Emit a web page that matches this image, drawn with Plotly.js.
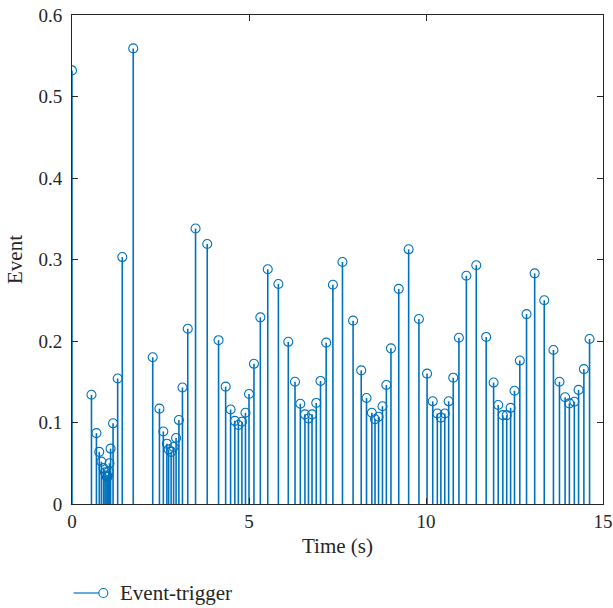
<!DOCTYPE html>
<html>
<head>
<meta charset="utf-8">
<script src="https://cdn.plot.ly/plotly-3.0.1.min.js"></script>
<style>html,body{margin:0;padding:0;background:#fff;}#chart{width:613px;height:608px;}</style>
</head>
<body>
<div id="chart"></div>
<script>
const timeS = [0, 0.55, 0.69, 0.77, 0.83, 0.89, 0.93, 0.96, 0.99, 1.01, 1.04, 1.06, 1.09, 1.16, 1.29, 1.42, 1.73,
  2.28, 2.47, 2.58, 2.68, 2.73, 2.80, 2.87, 2.94, 3.02, 3.12, 3.27, 3.49, 3.82, 4.14, 4.34, 4.48, 4.60, 4.70, 4.80,
  4.90, 5.00, 5.14, 5.32, 5.53, 5.83, 6.11, 6.30, 6.45, 6.58, 6.68, 6.78, 6.90, 7.02, 7.18, 7.37, 7.64, 7.94, 8.17,
  8.32, 8.47, 8.56, 8.66, 8.77, 8.88, 9.01, 9.23, 9.51, 9.80, 10.03, 10.19, 10.32, 10.42, 10.53, 10.64, 10.77, 10.93,
  11.14, 11.42, 11.70, 11.91, 12.04, 12.17, 12.28, 12.39, 12.50, 12.65, 12.84, 13.07, 13.34, 13.60, 13.77, 13.93,
  14.05, 14.19, 14.31, 14.46, 14.62];
const eventVal = [0.532, 0.134, 0.087, 0.064, 0.052, 0.044, 0.039, 0.035, 0.033, 0.034, 0.040, 0.050, 0.068, 0.099, 0.154, 0.303, 0.559,
  0.180, 0.117, 0.089, 0.074, 0.067, 0.064, 0.070, 0.081, 0.103, 0.143, 0.215, 0.338, 0.319, 0.201, 0.144, 0.116, 0.102, 0.097, 0.101,
  0.112, 0.135, 0.172, 0.229, 0.288, 0.270, 0.199, 0.150, 0.123, 0.110, 0.105, 0.110, 0.124, 0.151, 0.198, 0.269, 0.297, 0.225, 0.164,
  0.130, 0.112, 0.104, 0.107, 0.120, 0.146, 0.191, 0.264, 0.3125, 0.227, 0.160, 0.126, 0.111, 0.106, 0.111, 0.126, 0.155, 0.204,
  0.280, 0.293, 0.205, 0.149, 0.1215, 0.109, 0.109, 0.118, 0.139, 0.176, 0.233, 0.283, 0.250, 0.189, 0.150, 0.131,
  0.1235, 0.1255, 0.140, 0.1655, 0.2025];
const seriesName = 'Event-trigger';
const xTicks = [0, 5, 10, 15];
const yTicks = [0, 0.1, 0.2, 0.3, 0.4, 0.5, 0.6];
const yTickText = ['0', '0.1', '0.2', '0.3', '0.4', '0.5', '0.6'];

const blue = '#0072BD';
const stemX = [], stemY = [];
timeS.forEach((t, i) => { stemX.push(t, t, null); stemY.push(0, eventVal[i], null); });

const fam = '"Liberation Serif", "Times New Roman", serif';
const font = {family: fam, size: 19, color: '#262626'};
const titleFont = {family: fam, size: 21, color: '#262626'};
const axisCommon = {
  showgrid: false, zeroline: false, showline: true, linecolor: '#262626', linewidth: 1,
  mirror: 'ticks', ticks: 'inside', ticklen: 6, tickcolor: '#262626', tickwidth: 1,
  tickfont: font
};

const data = [
  {x: stemX, y: stemY, type: 'scatter', mode: 'lines', line: {color: blue, width: 1.6},
   showlegend: false, hoverinfo: 'skip'},
  {x: timeS, y: eventVal, type: 'scatter', mode: 'markers', name: seriesName, showlegend: false,
   marker: {symbol: 'circle-open', size: 9, color: blue, line: {width: 1.1, color: blue}}}
];

const layout = {
  width: 613, height: 608,
  margin: {l: 72, r: 10, t: 15, b: 104},
  paper_bgcolor: '#fff', plot_bgcolor: '#fff',
  font: font,
  xaxis: Object.assign({}, axisCommon, {range: [0, 15], tickvals: xTicks, ticktext: xTicks.map(String),
    title: {text: 'Time (s)', font: titleFont, standoff: 7}}),
  yaxis: Object.assign({}, axisCommon, {range: [0, 0.6], tickvals: yTicks, ticktext: yTickText,
    ticklabelstandoff: 5,
    title: {text: 'Event', font: titleFont, standoff: 10}}),
  shapes: [
    {type: 'line', xref: 'paper', yref: 'paper', x0: 0.003, x1: 0.059, y0: -0.182, y1: -0.182,
     line: {color: blue, width: 1.2}},
    {type: 'circle', xref: 'paper', yref: 'paper', xsizemode: 'pixel', ysizemode: 'pixel',
     xanchor: 0.059, yanchor: -0.182, x0: -4.5, x1: 4.5, y0: -4.5, y1: 4.5,
     line: {color: blue, width: 1.1}, fillcolor: '#fff'}
  ],
  annotations: [
    {xref: 'paper', yref: 'paper', x: 0.087, y: -0.182, xanchor: 'left', yanchor: 'middle',
     text: seriesName, showarrow: false, font: titleFont}
  ]
};

Plotly.newPlot('chart', data, layout, {displayModeBar: false, staticPlot: true});
</script>
</body>
</html>
